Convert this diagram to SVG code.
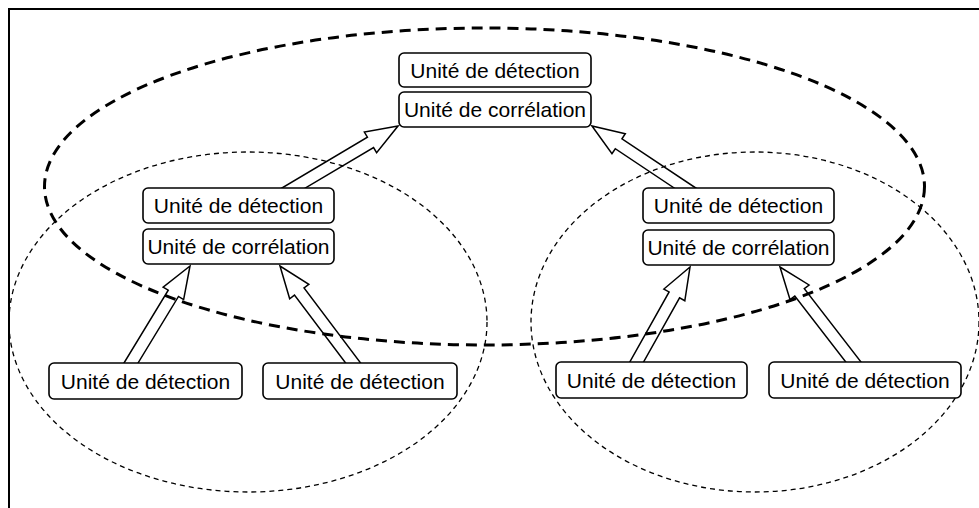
<svg xmlns="http://www.w3.org/2000/svg" width="979" height="508" viewBox="0 0 979 508">
  <defs>
    <style>
      .frame { fill: none; stroke: #000; stroke-width: 2; }
      .zone-major { fill: none; stroke: #000; stroke-width: 3; stroke-dasharray: 11 7; }
      .zone-minor { fill: none; stroke: #000; stroke-width: 1.3; stroke-dasharray: 5 4; }
      .box { fill: #fff; stroke: #000; stroke-width: 1.6; }
      .label { font-family: "Liberation Sans", Arial, sans-serif; font-size: 21px; fill: #000; text-anchor: middle; }
      .block-arrow { fill: none; stroke: #000; stroke-width: 1.5; stroke-linejoin: miter; }
    </style>
  </defs>

  <rect width="979" height="508" fill="#fff"/>

  <!-- page frame (left and top edges) -->
  <path class="frame" d="M9 508 V9 H979"/>

  <!-- grouping zones -->
  <g id="zones">
    <ellipse class="zone-major" cx="484.5" cy="186.5" rx="440" ry="158.5"/>
    <ellipse class="zone-minor" cx="248" cy="322" rx="239" ry="170"/>
    <ellipse class="zone-minor" cx="755" cy="322" rx="224" ry="170"/>
  </g>

  <!-- hollow block arrows: tip at origin, shaft along -x -->
  <g id="connectors">
    <path class="block-arrow" transform="translate(398 126) rotate(-30.7)" d="M0 0 L-32 -12 L-32 -6 L-133 -6 L-133 6 L-32 6 L-32 12 Z"/>
    <path class="block-arrow" transform="translate(592 126) rotate(-146.3)" d="M0 0 L-32 -12 L-32 -6 L-124 -6 L-124 6 L-32 6 L-32 12 Z"/>
    <path class="block-arrow" transform="translate(190 266) rotate(-58.7)" d="M0 0 L-32 -12 L-32 -6 L-124 -6 L-124 6 L-32 6 L-32 12 Z"/>
    <path class="block-arrow" transform="translate(280 266) rotate(-127)" d="M0 0 L-32 -12 L-32 -6 L-132 -6 L-132 6 L-32 6 L-32 12 Z"/>
    <path class="block-arrow" transform="translate(690 267) rotate(-60.7)" d="M0 0 L-32 -12 L-32 -6 L-122 -6 L-122 6 L-32 6 L-32 12 Z"/>
    <path class="block-arrow" transform="translate(780 267) rotate(-127.7)" d="M0 0 L-32 -12 L-32 -6 L-133 -6 L-133 6 L-32 6 L-32 12 Z"/>
  </g>

  <!-- top node -->
  <g id="top-detection">
    <rect class="box" x="399" y="53" width="192" height="34" rx="5"/>
    <text class="label" x="495" y="77.5">Unité de détection</text>
  </g>
  <g id="top-correlation">
    <rect class="box" x="399" y="92" width="192" height="35" rx="5"/>
    <text class="label" x="495" y="117">Unité de corrélation</text>
  </g>

  <!-- left intermediate node -->
  <g id="left-detection">
    <rect class="box" x="143" y="188" width="191" height="35" rx="5"/>
    <text class="label" x="238.5" y="213">Unité de détection</text>
  </g>
  <g id="left-correlation">
    <rect class="box" x="143" y="229" width="191" height="35" rx="5"/>
    <text class="label" x="238.5" y="254">Unité de corrélation</text>
  </g>

  <!-- right intermediate node -->
  <g id="right-detection">
    <rect class="box" x="643" y="188" width="191" height="35" rx="5"/>
    <text class="label" x="738.5" y="213">Unité de détection</text>
  </g>
  <g id="right-correlation">
    <rect class="box" x="643" y="230" width="191" height="35" rx="5"/>
    <text class="label" x="738.5" y="255">Unité de corrélation</text>
  </g>

  <!-- leaf detection units -->
  <g id="leaf-1">
    <rect class="box" x="49" y="363" width="193" height="36" rx="5"/>
    <text class="label" x="145.5" y="388.5">Unité de détection</text>
  </g>
  <g id="leaf-2">
    <rect class="box" x="263" y="363" width="194" height="36" rx="5"/>
    <text class="label" x="360" y="388.5">Unité de détection</text>
  </g>
  <g id="leaf-3">
    <rect class="box" x="556" y="362" width="191" height="36" rx="5"/>
    <text class="label" x="651.5" y="387.5">Unité de détection</text>
  </g>
  <g id="leaf-4">
    <rect class="box" x="769" y="362" width="192" height="36" rx="5"/>
    <text class="label" x="865" y="387.5">Unité de détection</text>
  </g>
</svg>
